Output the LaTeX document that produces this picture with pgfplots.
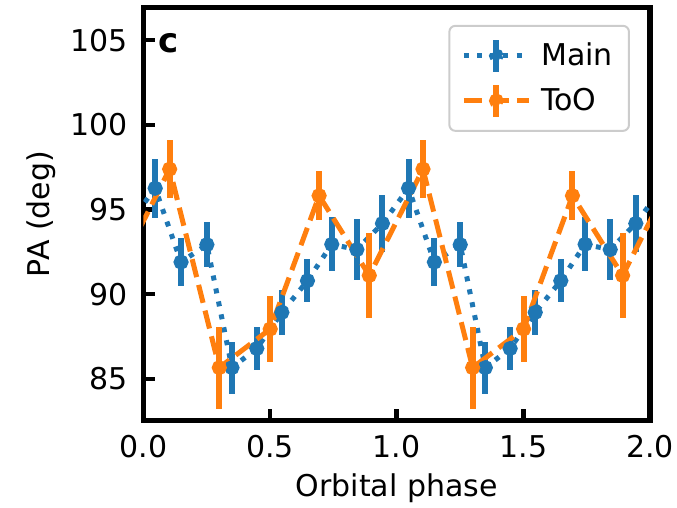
\documentclass[border=0pt]{standalone}
\usepackage{fontspec}
\setmainfont{DejaVu Sans}
\usepackage{pgfplots}
\usepackage{pgfplotstable}
\pgfplotsset{compat=1.18}
\definecolor{tabblue}{HTML}{1F77B4}
\definecolor{taborange}{HTML}{FF7F0E}

\pgfplotstableread{
x y e
-0.056 94.18 1.69
0.047 96.26 1.73
0.149 91.90 1.44
0.251 92.93 1.34
0.350 85.67 1.54
0.448 86.80 1.24
0.547 88.93 1.34
0.648 90.80 1.26
0.744 92.95 1.59
0.843 92.64 1.79
0.944 94.18 1.69
1.047 96.26 1.73
1.149 91.90 1.44
1.251 92.93 1.34
1.350 85.67 1.54
1.448 86.80 1.24
1.547 88.93 1.34
1.648 90.80 1.26
1.744 92.95 1.59
1.843 92.64 1.79
1.944 94.18 1.69
2.047 96.26 1.73
}\maindata

\pgfplotstableread{
x y e
-0.108 91.11 2.52
0.104 97.39 1.73
0.300 85.67 2.42
0.501 87.95 1.93
0.694 95.82 1.43
0.892 91.11 2.52
1.104 97.39 1.73
1.300 85.67 2.42
1.501 87.95 1.93
1.694 95.82 1.43
1.892 91.11 2.52
2.104 97.39 1.73
}\toodata

\pgfplotsset{
 legimg/.style={legend image code/.code={
   \draw[line cap=butt] (0pt,0pt) -- (32.5pt,0pt);
   \draw[solid, line width=3pt] (16.25pt,-8pt) -- (16.25pt,8pt);
   \fill (16.25pt,0pt) circle (2.4pt);
 }},
}

\begin{document}
\begin{tikzpicture}
\path[use as bounding box] (-71.65pt,-43.75pt) rectangle (266.85pt,210.25pt);
\begin{axis}[
 at={(0,0)}, anchor=south west,
 scale only axis, width=253.35pt, height=206.5pt,
 xmin=0, xmax=2, ymin=82.55, ymax=106.93,
 axis line style={line width=2.75pt, black},
 xtick={0,0.5,1,1.5,2}, ytick={85,90,95,100,105},
 tick align=inside, tick pos=left,
 major tick length=5.8pt,
 major tick style={line width=2.2pt, black},
 /pgf/number format/assume math mode=true,
 xticklabel style={/pgf/number format/fixed, /pgf/number format/fixed zerofill, /pgf/number format/precision=1},
 tick label style={font=\fontsize{15}{18}\selectfont},
 xticklabel style={anchor=north, inner sep=0pt, yshift=-7.25pt},
 yticklabel style={anchor=east, inner sep=0pt, xshift=-7.65pt},
 xlabel={Orbital phase}, ylabel={PA (deg)},
 label style={font=\fontsize{15}{18}\selectfont},
 xlabel style={at={(axis description cs:0.5,-0.1845)}, anchor=base, inner sep=0pt},
 ylabel style={at={(axis description cs:-0.1844,0.5)}, anchor=base, inner sep=0pt},
 legend cell align=left,
 legend style={at={(rel axis cs:0.9605,0.958)}, anchor=north east,
   draw=black!20, line width=1pt, rounded corners=3pt,
   fill=white, fill opacity=0.8, text opacity=1,
   font=\fontsize{15}{18}\selectfont,
   inner xsep=6pt, inner ysep=5.5pt, row sep=3.5pt,
   /tikz/every odd column/.append style={column sep=3pt}},
 error bars/y dir=both, error bars/y explicit, error bars/error mark=none,
]
\addplot[color=tabblue, line width=2.5pt, line cap=butt, dash pattern=on 2.5pt off 4.1pt,
  mark=*, mark size=2.5pt, mark options={solid},
  error bars/error bar style={line width=3pt, solid, tabblue}, legimg]
  table[x=x, y=y, y error=e] {\maindata};
\addlegendentry{Main}
\addplot[color=taborange, line width=2.5pt, line cap=butt, dash pattern=on 9.25pt off 4pt,
  mark=*, mark size=2.5pt, mark options={solid},
  error bars/error bar style={line width=3pt, solid, taborange}, legimg]
  table[x=x, y=y, y error=e] {\toodata};
\addlegendentry{ToO}
\node[anchor=base west, inner sep=0pt, font=\fontsize{17}{20}\selectfont\bfseries] at (rel axis cs:0.0296,0.892) {c};
\end{axis}
\end{tikzpicture}
\end{document}
